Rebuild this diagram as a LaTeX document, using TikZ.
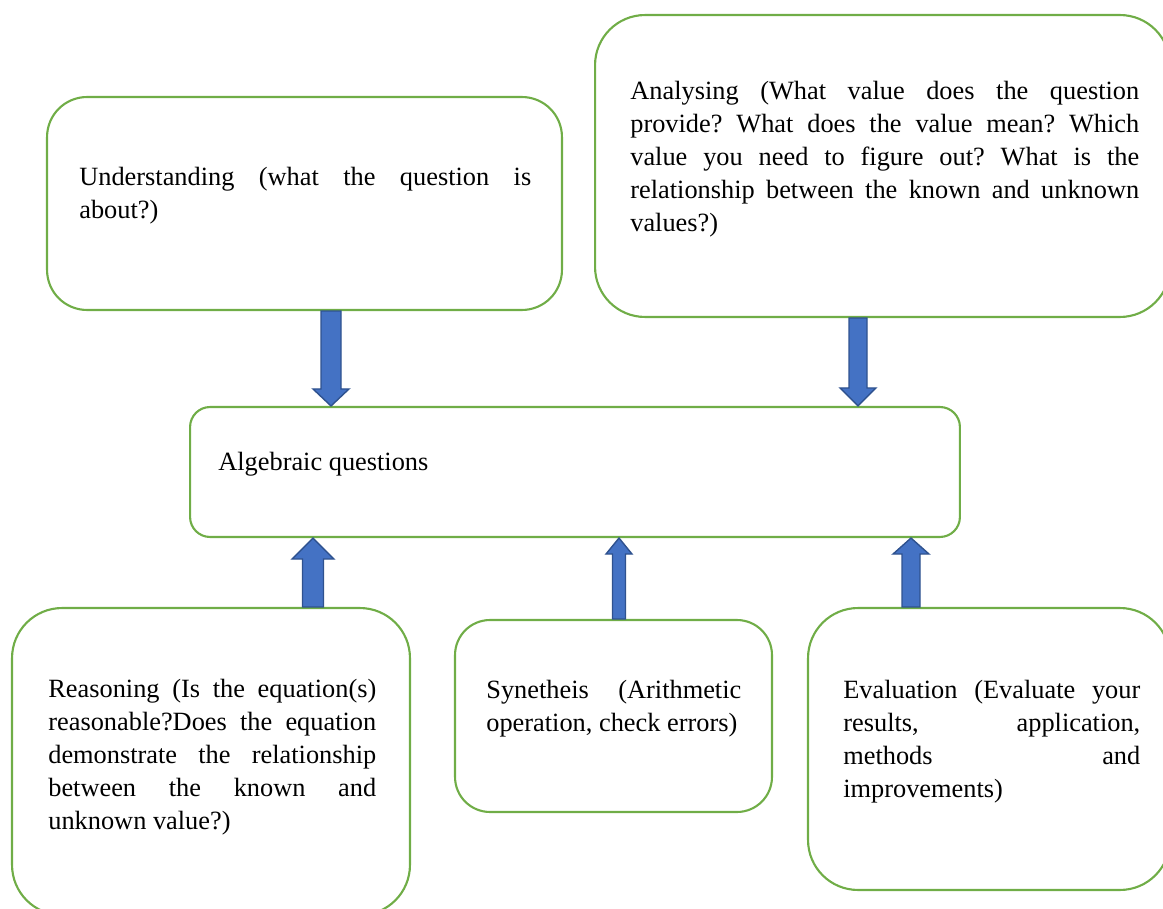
\documentclass[tikz,border=0pt]{standalone}
\usepackage{fontspec}
\setmainfont{Liberation Serif}
\usetikzlibrary{calc}
\definecolor{boxgreen}{HTML}{70AD47}
\definecolor{arrowblue}{HTML}{4472C4}
\definecolor{arrowedge}{HTML}{2F528F}
\tolerance=10000
\hbadness=10000
\hyphenpenalty=10000
\frenchspacing

% block arrow: start, tip, half shaft, half head, head length
\newcommand{\blockarrow}[5]{%
  \path (#1) coordinate (ba-s) (#2) coordinate (ba-t);
  \coordinate (ba-n) at ($(ba-t)!#5!(ba-s)$);
  \filldraw[blockarr] ($(ba-s)!#3!90:(ba-t)$) -- ($(ba-n)!#3!-90:(ba-s)$) -- ($(ba-n)!#4!-90:(ba-s)$)
    -- (ba-t) -- ($(ba-n)!#4!90:(ba-s)$) -- ($(ba-n)!#3!90:(ba-s)$) -- ($(ba-s)!#3!-90:(ba-t)$) -- cycle;}

\begin{document}
\begin{tikzpicture}[x=0.02cm,y=-0.02cm,
  box/.style={draw=boxgreen, line width=1.2pt, rounded corners=#1, inner sep=0pt},
  box/.default=0.9cm,
  txt/.style={inner sep=0pt, anchor=north west, align=justify, font=\fontsize{15}{18.8}\selectfont},
  blockarr/.style={fill=arrowblue, draw=arrowedge, line width=0.8pt, line join=miter}]
\path[use as bounding box, clip] (0,0) rectangle (1163,909);

% boxes
\node[box=0.8cm, minimum width=10.3cm, minimum height=4.26cm] (und) at (304.5,203.5) {};
\node[box=1cm, minimum width=11.5cm, minimum height=6.04cm] (ana) at (882.5,166) {};
\node[box=0.4cm, minimum width=15.4cm, minimum height=2.6cm] (alg) at (575,472) {};
\node[box=1cm, minimum width=7.96cm, minimum height=6.14cm] (rea) at (211,761.5) {};
\node[box=0.7cm, minimum width=6.34cm, minimum height=3.84cm] (syn) at (613.5,716) {};
\node[box=1cm, minimum width=7.24cm, minimum height=5.64cm] (eva) at (989,749) {};

% texts
\node[txt, text width=9.04cm] (undtxt) at (79,162) {\strut Understanding (what the question is\linebreak about?)};
\node[txt, text width=10.18cm] (anatxt) at (630,76) {\strut Analysing (What value does the question\linebreak provide? What does the value mean? Which\linebreak value you need to figure out? What is the\linebreak relationship between the known and unknown\linebreak values?)};
\node[inner sep=0pt, anchor=base west, font=\fontsize{15}{18.8}\selectfont] (algtxt) at (218,470) {Algebraic questions};
\node[txt, text width=6.56cm] (reatxt) at (48,674) {\strut Reasoning (Is the equation(s)\linebreak reasonable?Does the equation\linebreak demonstrate the relationship\linebreak between the known and\linebreak unknown value?)};
\node[txt, text width=5.1cm] (syntxt) at (486,675) {\strut Synetheis (Arithmetic\linebreak operation, check errors)};
\node[txt, text width=5.94cm] (evatxt) at (843,675) {\strut Evaluation (Evaluate your\linebreak results, application,\linebreak methods and\linebreak improvements)};

% arrows
\coordinate (xa) at (331,0);
\coordinate (xb) at (858,0);
\coordinate (xc) at (313,0);
\coordinate (xd) at (619,0);
\coordinate (xe) at (911,0);
\blockarrow{und.south -| xa}{alg.north -| xa}{0.2cm}{0.36cm}{0.34cm}
\blockarrow{ana.south -| xb}{alg.north -| xb}{0.18cm}{0.36cm}{0.36cm}
\blockarrow{rea.north -| xc}{alg.south -| xc}{0.21cm}{0.42cm}{0.42cm}
\blockarrow{syn.north -| xd}{alg.south -| xd}{0.13cm}{0.26cm}{0.32cm}
\blockarrow{eva.north -| xe}{alg.south -| xe}{0.18cm}{0.36cm}{0.32cm}
\end{tikzpicture}
\end{document}
